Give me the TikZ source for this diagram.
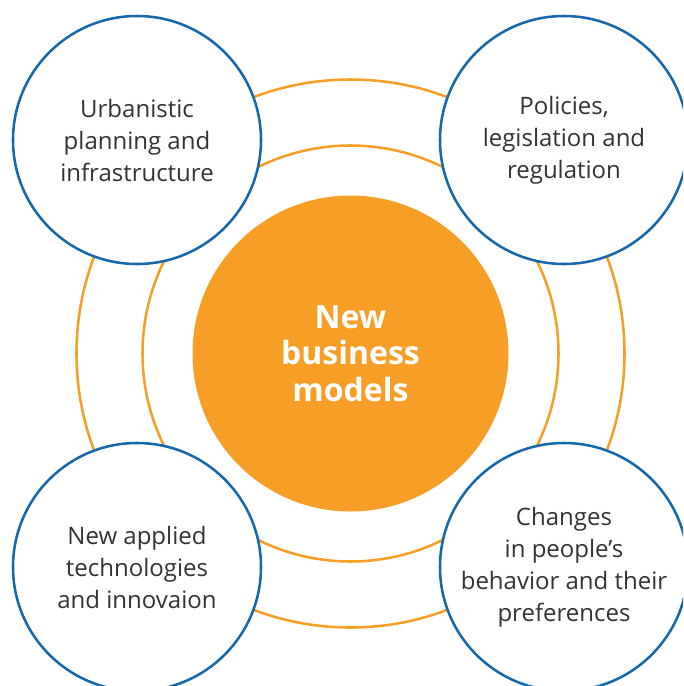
\documentclass[tikz,border=0pt]{standalone}
\usepackage{fontspec}
\setmainfont{Open Sans}
\usepackage{xcolor}
\definecolor{ringorange}{RGB}{247,158,38}
\definecolor{circblue}{RGB}{21,104,171}
\definecolor{textgray}{RGB}{51,51,51}

\begin{document}
\begin{tikzpicture}[x=0.75pt,y=0.75pt,yscale=-1,xscale=1,
  hub/.style={circle,fill=ringorange,inner sep=0pt,minimum size=237pt,
    align=center,text=white,font=\fontsize{24}{27.5}\selectfont\bfseries},
  factor/.style={circle,draw=circblue,line width=1.9pt,fill=white,inner sep=0pt,
    minimum size=186pt,align=center,text=textgray,font=\fontsize{18}{24}\selectfont},
  ring/.style={draw=ringorange,line width=1.9pt}]
\useasboundingbox (0,0) rectangle (683,686);
\clip (0,0) rectangle (683,686);

%Rings
\draw [ring] (350.5,353.5) circle [radius=274];
\draw [ring] (350.5,353.5) circle [radius=208];

% Hub
\node [hub] (models) at (350.5,353.5) {New\\business\\models};

% Factor circles
\node [factor] (planning) at (137,140) {Urbanistic\\planning and\\infrastructure};
\node [factor] (policies) at (564,140) {Policies,\\legislation and\\regulation};
\node [factor] (tech) at (137,567) {New applied\\technologies\\and innovaion};
\node [factor] (people) at (564,567) {Changes\\in people’s\\behavior and their\\preferences};

\end{tikzpicture}
\end{document}
